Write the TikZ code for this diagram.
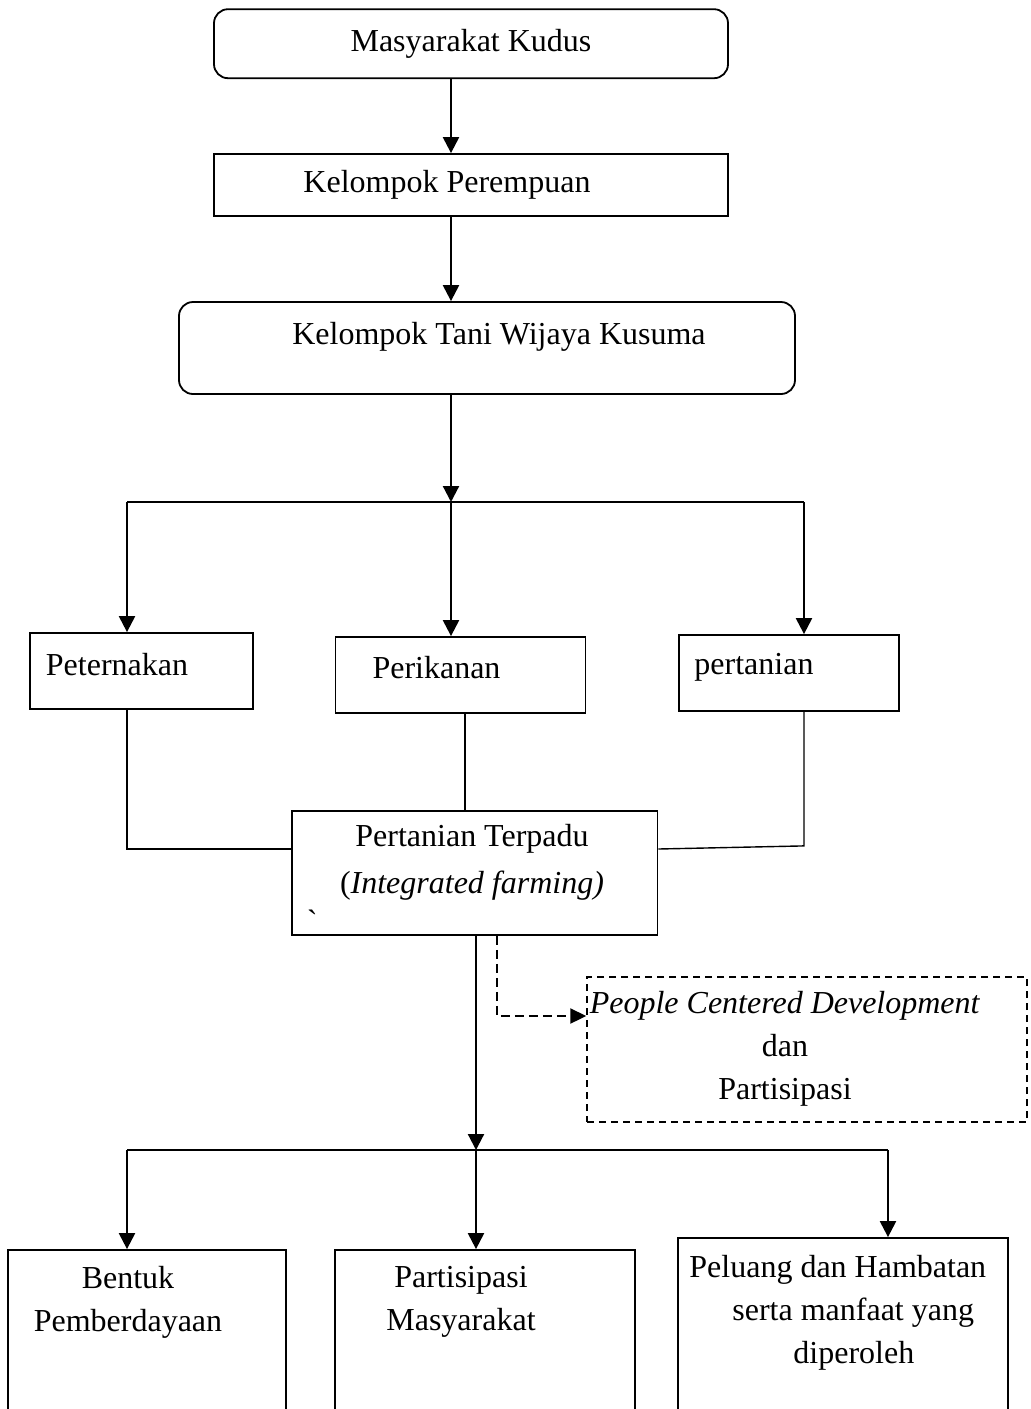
\documentclass[tikz,border=0pt]{standalone}
\usepackage{fontspec}
\setmainfont{Liberation Serif}
\usepackage{tikz}
\usetikzlibrary{arrows.meta, positioning}
\tikzstyle{roundbox} = [rectangle, rounded corners=7pt, draw=black, line width=0.9pt, inner sep=0pt]
\tikzstyle{plainbox} = [rectangle, draw=black, line width=0.9pt, inner sep=0pt]
\tikzstyle{dashbox}  = [rectangle, draw=black, line width=0.7pt, dash pattern=on 3.5pt off 2.5pt, inner sep=0pt]
\tikzstyle{txt}      = [inner sep=0pt, font=\fontsize{16}{21.5}\selectfont]
\tikzstyle{arrow}    = [line width=1.1pt, -{Triangle[length=8pt,width=8pt]}]
\tikzstyle{dasharrow}= [line width=1pt, dash pattern=on 4.5pt off 2.5pt, -{Triangle[length=8pt,width=7.5pt]}]
\tikzstyle{branch}   = [line width=1.1pt]
\tikzstyle{link}     = [line width=0.7pt]
\tikzset{every node/.style={align=center}}

\begin{document}
\begin{tikzpicture}[x=0.5pt, y=-0.5pt]
    \useasboundingbox (0,0) rectangle (1030,1409);
    \clip (0,0) rectangle (1030,1409);

    % boxes
    \node (mk)  at (471,   43.7) [roundbox, minimum width=257pt,   minimum height=34.5pt, txt] {Masyarakat Kudus};
    \node (kp)  at (471,  185)   [plainbox, minimum width=257pt,   minimum height=31pt] {};
    \node (kt)  at (487,  348)   [roundbox, minimum width=308pt,   minimum height=46pt] {};
    \node (pet) at (141.5, 671)  [plainbox, minimum width=111.5pt, minimum height=38pt] {};
    \node (per) at (460.5, 675)  [plainbox, minimum width=125pt,   minimum height=38pt] {};
    \node (ptn) at (789,  673)   [plainbox, minimum width=109.75pt,minimum height=38pt] {};
    \node (pt)  at (474.75,873)  [plainbox, minimum width=182.75pt,minimum height=62pt] {};
    \node (pcd) at (807, 1049.5) [dashbox,  minimum width=220pt,   minimum height=72.5pt] {};
    \node (ben) at (147, 1340)   [plainbox, minimum width=139pt,   minimum height=90pt] {};
    \node (par) at (485, 1340)   [plainbox, minimum width=150pt,   minimum height=90pt] {};
    \node (pel) at (843, 1334)   [plainbox, minimum width=165pt,   minimum height=96pt] {};

    % texts
    \node (kpT)  at (447,  185) [txt] {Kelompok Perempuan};
    \node (ktT)  at (499,  337) [txt] {Kelompok Tani Wijaya Kusuma};
    \node (petT) at (117,  665) [txt] {Peternakan};
    \node (perT) at (436.5,668) [txt] {Perikanan};
    \node (ptnT) at (754,  667) [txt] {pertanian};
    \node (ptT)  at (472,  862) [txt, font=\fontsize{16}{23.5}\selectfont] {Pertanian Terpadu\\(\textit{Integrated farming)}};
    \node (tick) at (313,  924) [txt] {\`{}};
    \node (pcdT) at (785, 1049) [txt] {\textit{People Centered Development}\\dan\\Partisipasi};
    \node (benT) at (128, 1302) [txt] {Bentuk\\Pemberdayaan};
    \node (parT) at (461, 1302) [txt] {Partisipasi\\Masyarakat};
    \node (pelT) at (689, 1313) [txt, anchor=west, align=left] {Peluang dan Hambatan\\\hspace*{21.5pt}serta manfaat yang\\\hspace*{52pt}diperoleh};

    % junctions
    \coordinate (ax) at (451, 0);
    \coordinate (j1) at (451, 502);
    \coordinate (l1) at (127, 502);
    \coordinate (r1) at (804, 502);
    \coordinate (mx) at (465, 0);
    \coordinate (lk) at (0, 849);
    \coordinate (j2) at (476, 1150);
    \coordinate (l2) at (127, 1150);
    \coordinate (r2) at (888, 1150);
    \coordinate (dx) at (497, 0);
    \coordinate (dy) at (0, 1016);

    \draw [arrow] (mk.south -| ax) -- (kp.north -| ax);
    \draw [arrow] (kp.south -| ax) -- (kt.north -| ax);
    \draw [arrow] (kt.south -| j1) -- (j1);
    \draw [branch] (l1) -- (r1);
    \draw [arrow] (l1) -- (pet.north -| l1);
    \draw [arrow] (j1) -- (per.north -| j1);
    \draw [arrow] (r1) -- (ptn.north -| r1);

    \draw [link] (pet.south -| l1) |- (pt.west |- lk);
    \draw [link] (per.south -| mx) -- (pt.north -| mx);
    \draw [link] (ptn.south -| r1) -- ++(0,134) -- (pt.east |- lk);

    \draw [arrow] (pt.south -| j2) -- (j2);
    \draw [dasharrow] (pt.south -| dx) |- (pcd.west |- dy);
    \draw [branch] (l2) -- (r2);
    \draw [arrow] (l2) -- (ben.north -| l2);
    \draw [arrow] (j2) -- (par.north -| j2);
    \draw [arrow] (r2) -- (pel.north -| r2);
\end{tikzpicture}
\end{document}
